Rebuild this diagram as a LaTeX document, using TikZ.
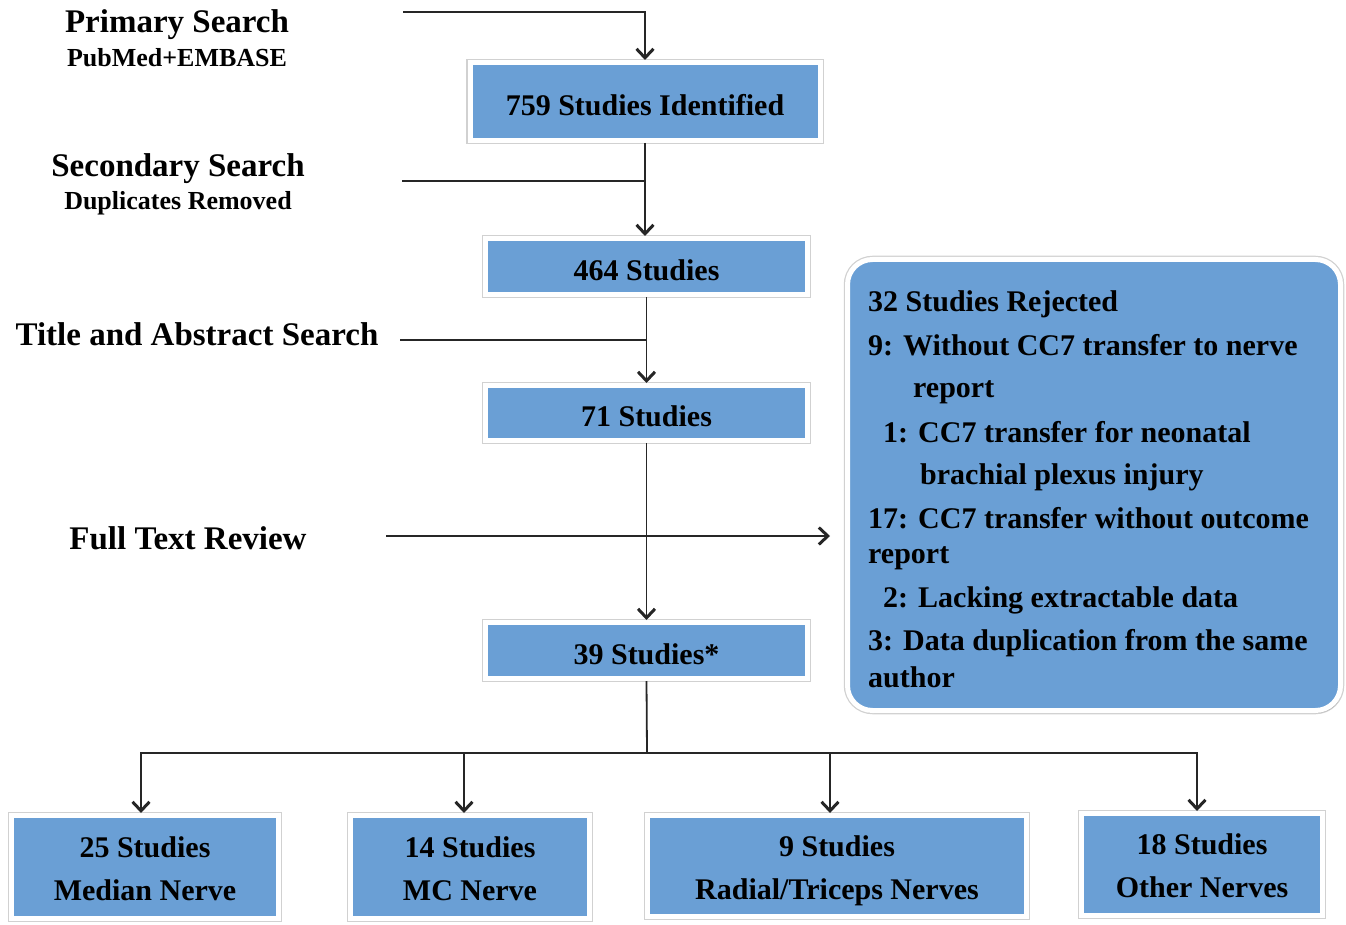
\documentclass[tikz,border=0pt]{standalone}
\usepackage{fontspec}
\setmainfont{Liberation Serif}
\usepackage{tikz}
\usetikzlibrary{arrows.meta}
\usetikzlibrary{shadows}
\definecolor{boxblue}{RGB}{106,159,213}

\begin{document}
\begin{tikzpicture}[x=1pt, y=-1pt,
        studybox/.style={fill=boxblue, draw=white, line width=5pt, inner sep=0pt, align=center,
            text height=27.5pt, font=\fontsize{30}{43}\selectfont\bfseries,
            preaction={draw=black!18, line width=7.5pt},
            drop shadow={shadow xshift=1.5pt, shadow yshift=-2.5pt, fill=black, opacity=0.18}},
        nervebox/.style={studybox, text height=66pt, text depth=0pt},
        steptitle/.style={anchor=base, inner sep=0pt, font=\fontsize{33}{40}\selectfont\bfseries},
        stepnote/.style={anchor=base, inner sep=0pt, font=\fontsize{26}{30}\selectfont\bfseries},
        rejline/.style={anchor=base west, inner sep=0pt, font=\fontsize{30}{36}\selectfont\bfseries},
        flow/.style={line width=1.8pt, black!85},
        flowarrow/.style={flow, -{Straight Barb[length=9pt, width=17pt, line width=3pt]}}]
        \useasboundingbox (0,0) rectangle (1346,925);
        \node[steptitle] (primarylabel) at (177,33) {Primary Search};
        \node[stepnote] (primarynote) at (177,67) {PubMed+EMBASE};
        \node[steptitle] (secondarylabel) at (178,177) {Secondary Search};
        \node[stepnote] (secondarynote) at (178,210) {Duplicates Removed};
        \node[steptitle] (abstractlabel) at (197,345) {Title and Abstract Search};
        \node[steptitle] (fulltextlabel) at (188,549) {Full Text Review};
        \node[studybox, minimum width=350pt, minimum height=78pt] (identified) at (645,101.5) {759 Studies Identified};
        \node[studybox, minimum width=322pt, minimum height=56pt] (screened) at (646.5,266.5) {464 Studies};
        \node[studybox, minimum width=322pt, minimum height=55pt] (eligible) at (646.5,413) {71 Studies};
        \node[studybox, minimum width=322pt, minimum height=56pt] (included) at (646.5,650.5) {39 Studies*};
        \node[nervebox, minimum width=267pt, minimum height=103pt] (median) at (145,867) {25 Studies\\Median Nerve};
        \node[nervebox, minimum width=239pt, minimum height=103pt] (mc) at (470,867) {14 Studies\\MC Nerve};
        \node[nervebox, minimum width=379pt, minimum height=101pt] (radial) at (837,866) {9 Studies\\Radial/Triceps Nerves};
        \node[nervebox, minimum width=241pt, minimum height=102pt] (other) at (1202,864.5) {18 Studies\\Other Nerves};
        \node[studybox, rounded corners=25pt, minimum width=493pt, minimum height=451pt] (rejected) at (1094,485) {};
        \node[rejline] (rejtotal) at (868,312) {32 Studies Rejected};
        \node[rejline] (rejnine) at (868,355) {9: Without CC7 transfer to nerve};
        \node[rejline] (rejninemore) at (913,397) {report};
        \node[rejline] (rejone) at (883,442) {1: CC7 transfer for neonatal};
        \node[rejline] (rejonemore) at (920,484) {brachial plexus injury};
        \node[rejline] (rejseventeen) at (868,528) {17: CC7 transfer without outcome};
        \node[rejline] (rejseventeenmore) at (868,563) {report};
        \node[rejline] (rejtwo) at (883,607) {2: Lacking extractable data};
        \node[rejline] (rejthree) at (868,650) {3: Data duplication from the same};
        \node[rejline] (rejthreemore) at (868,687) {author};
        \coordinate (primary) at (403,12);
        \coordinate (secondary) at (402,181);
        \coordinate (abstract) at (400,340);
        \coordinate (fulltext) at (386,536);
        \coordinate (split) at (647,753);
        \draw[flowarrow] (primary) -| (identified.north);
        \draw[flow] (secondary) -- (secondary -| identified.south);
        \draw[flowarrow] (identified.south) -- (identified.south |- screened.north);
        \draw[flow] (abstract) -- (abstract -| screened.south);
        \draw[flowarrow] (screened.south) -- (eligible.north);
        \draw[flowarrow, shorten >=15pt] (fulltext) -- (fulltext -| rejected.west);
        \draw[flowarrow] (eligible.south) -- (included.north);
        \draw[flow] (included.south) -- (split);
        \draw[flowarrow] (split) -| ([xshift=-4pt]median.north);
        \draw[flowarrow] (split) -| ([xshift=-6pt]mc.north);
        \draw[flowarrow] (split) -| ([xshift=-7pt]radial.north);
        \draw[flowarrow] (split) -| ([xshift=-5pt]other.north);
    \end{tikzpicture}
\end{document}
